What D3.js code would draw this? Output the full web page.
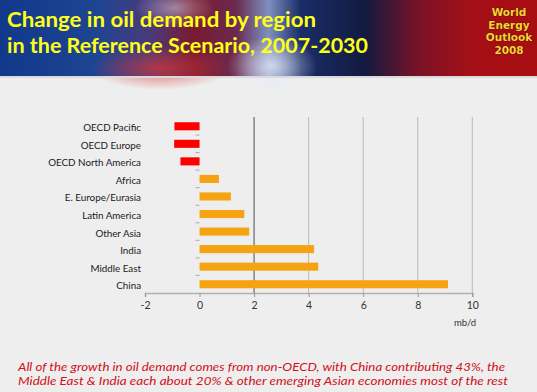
<!DOCTYPE html>
<html><head><meta charset="utf-8">
<script src="https://cdn.jsdelivr.net/npm/d3@7"></script>
<style>
html,body{margin:0;padding:0;background:#eeeeee;}
svg{display:block;}
</style></head>
<body>
<script>
const categories = ["OECD Pacific","OECD Europe","OECD North America","Africa","E. Europe/Eurasia","Latin America","Other Asia","India","Middle East","China"];
const values = [-0.92,-0.93,-0.7,0.71,1.15,1.64,1.82,4.2,4.35,9.11];
const xTicks = [-2,0,2,4,6,8,10];
const titleLines = ["Change in oil demand by region","in the Reference Scenario, 2007-2030"];
const logoLines = ["World","Energy","Outlook","2008"];
const noteLines = ["All of the growth in oil demand comes from non-OECD, with China contributing 43%, the","Middle East & India each about 20% & other emerging Asian economies most of the rest"];
const unitLabel = "mb/d";

const W = 537, H = 392;
const svg = d3.select("body").append("svg").attr("width", W).attr("height", H);
const defs = svg.append("defs");

// header background
const g1 = defs.append("linearGradient").attr("id","hdr").attr("x1","0").attr("x2","1").attr("y1","0").attr("y2","0");
[["0%","#12388a"],["18%","#1d4592"],["28%","#4a3a7a"],["36%","#7a1a30"],["44%","#6a2a50"],["50%","#7d90c0"],["56%","#1a2d68"],["68%","#121a40"],["78%","#7a1226"],["88%","#a50f16"],["100%","#a80d12"]]
  .forEach(([o,c])=>g1.append("stop").attr("offset",o).attr("stop-color",c));
svg.append("rect").attr("x",0).attr("y",0).attr("width",W).attr("height",76).attr("fill","url(#hdr)");
const rg = defs.append("radialGradient").attr("id","glow");
rg.append("stop").attr("offset","0%").attr("stop-color","#e4eaf6").attr("stop-opacity",0.8);
rg.append("stop").attr("offset","100%").attr("stop-color","#e4eaf6").attr("stop-opacity",0);
svg.append("ellipse").attr("cx",272).attr("cy",66).attr("rx",45).attr("ry",30).attr("fill","url(#glow)");
svg.append("ellipse").attr("cx",175).attr("cy",8).attr("rx",40).attr("ry",20).attr("fill","url(#glow)").attr("opacity",0.6);
const rg2 = defs.append("radialGradient").attr("id","glow2");
rg2.append("stop").attr("offset","0%").attr("stop-color","#d83838").attr("stop-opacity",0.7);
rg2.append("stop").attr("offset","100%").attr("stop-color","#d83838").attr("stop-opacity",0);
svg.append("ellipse").attr("cx",160).attr("cy",68).attr("rx",70).attr("ry",22).attr("fill","url(#glow2)");
svg.append("rect").attr("x",0).attr("y",76).attr("width",W).attr("height",2).attr("fill","#dadada");

// title
svg.append("g").selectAll("text").data(titleLines).join("text")
  .attr("x",7).attr("y",(d,i)=>27+i*26)
  .attr("font-family","Lato, 'Open Sans', sans-serif").attr("font-weight","bold")
  .attr("font-size",21).attr("fill","#ffff1a")
  .attr("textLength",(d,i)=> i===0 ? 309 : 361).attr("lengthAdjust","spacingAndGlyphs")
  .text(d=>d);

// logo
svg.append("g").selectAll("text").data(logoLines).join("text")
  .attr("x",509).attr("y",(d,i)=>16+i*12.5).attr("text-anchor","middle")
  .attr("font-family","'DejaVu Sans', sans-serif").attr("font-weight","bold")
  .attr("font-size",10.5).attr("fill","#f4d630")
  .attr("stroke","#4a0a0a").attr("stroke-width",0.7).attr("paint-order","stroke")
  .text(d=>d);

// chart
const x = d3.scaleLinear().domain([-2,10]).range([145,472.3]);
const y = d3.scaleBand().domain(categories).range([117.5,293]).paddingInner(0.54).paddingOuter(0.27);
const band = d3.scaleBand().domain(categories).range([117.5,293]);

// gridlines
svg.append("g").selectAll("line").data(xTicks.filter(t=>t>0)).join("line")
  .attr("x1",d=>x(d)).attr("x2",d=>x(d)).attr("y1",117).attr("y2",293)
  .attr("stroke",d=>d===2?"#8a8a8a":"#b8b8b8").attr("stroke-width",d=>d===2?1.6:1);

// x axis
const xAxis = d3.axisBottom(x).tickValues(xTicks).tickSize(4).tickPadding(5).tickFormat(d=>String(d));
const xa = svg.append("g").attr("transform","translate(0,293)").call(xAxis);
xa.select(".domain").attr("stroke","#b0b0b0").attr("stroke-width",1.5);
xa.selectAll(".tick line").attr("stroke","#999");
xa.selectAll(".tick text").attr("font-family","Lato, 'Open Sans', sans-serif").attr("font-size",10.5).attr("fill","#333");

svg.append("text").attr("x",465).attr("y",326).attr("text-anchor","middle")
  .attr("font-family","Lato, 'Open Sans', sans-serif").attr("font-size",9.5).attr("fill","#333").text(unitLabel);

// y axis ticks at band boundaries
svg.append("g").selectAll("line").data(categories.slice(1)).join("line")
  .attr("x1",x(0)-4).attr("x2",x(0)).attr("y1",d=>band(d)).attr("y2",d=>band(d))
  .attr("stroke","#aaa").attr("stroke-width",1);

// bars
svg.append("g").selectAll("rect").data(categories).join("rect")
  .attr("x",(d,i)=>x(Math.min(0,values[i])))
  .attr("width",(d,i)=>Math.abs(x(values[i])-x(0)))
  .attr("y",d=>y(d)).attr("height",y.bandwidth())
  .attr("fill",(d,i)=>values[i]<0?"#fe0000":"#f5a313");

// category labels
svg.append("g").selectAll("text").data(categories).join("text")
  .attr("x",141).attr("y",d=>band(d)+band.bandwidth()/2+1.5).attr("dy","0.35em")
  .attr("text-anchor","end")
  .attr("font-family","Lato, 'Open Sans', sans-serif").attr("font-size",9.8).attr("fill","#1a1a1a")
  .text(d=>d);

// note
svg.append("g").selectAll("text").data(noteLines).join("text")
  .attr("x",18).attr("y",(d,i)=>371+i*13.5)
  .attr("font-family","Lato, 'Open Sans', sans-serif").attr("font-style","italic")
  .attr("font-size",11.5).attr("fill","#d0101a")
  .attr("textLength",(d,i)=> i===0 ? 487 : 490).attr("lengthAdjust","spacingAndGlyphs")
  .text(d=>d);
</script>
</body></html>
